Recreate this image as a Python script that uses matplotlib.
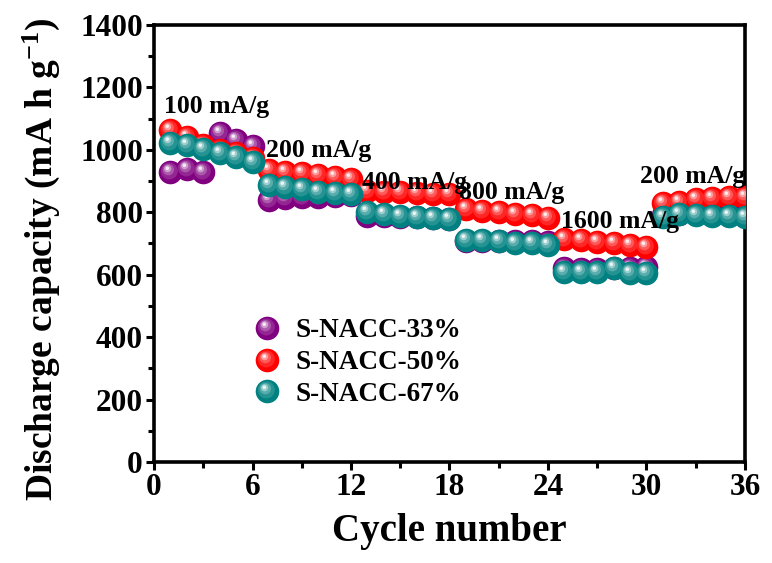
import numpy as np
import matplotlib
matplotlib.use("Agg")
import matplotlib.pyplot as plt
from matplotlib.path import Path
from matplotlib.legend_handler import HandlerTuple
from matplotlib.colors import to_rgb

cycles = list(range(1, 37))
s33 = [930, 939, 930, 1054, 1030, 1012, 840, 845, 849, 850, 852, 855,
       787, 788, 785, 784, 783, 780, 708, 709, 708, 708, 707, 706,
       620, 618, 618, 620, 620, 626, 792, 795, 796, 795, 795, 792]
s50 = [1065, 1040, 1016, 1000, 990, 973, 935, 930, 925, 920, 913, 908,
       868, 866, 864, 862, 860, 858, 810, 805, 800, 795, 790, 783,
       715, 712, 706, 700, 695, 688, 830, 834, 842, 845, 848, 850]
s67 = [1023, 1016, 1003, 990, 977, 962, 887, 881, 876, 866, 862, 857,
       801, 793, 788, 786, 783, 779, 711, 710, 709, 702, 701, 695,
       610, 610, 610, 622, 607, 605, 786, 795, 790, 788, 788, 784]
series_names = ["S-NACC-33%", "S-NACC-50%", "S-NACC-67%"]
series_colors = ["#800080", "#ff0000", "#008080"]

rate_labels = ["100 mA/g", "200 mA/g", "400 mA/g", "800 mA/g", "1600 mA/g", "200 mA/g"]
rate_x = [3.8, 10.0, 15.9, 21.8, 28.4, 32.8]
rate_y = [1140, 998, 894, 862, 770, 916]

plt.rcParams['font.family'] = ['Liberation Serif', 'DejaVu Serif']
plt.rcParams['font.weight'] = 'bold'
plt.rcParams['mathtext.fontset'] = 'custom'
plt.rcParams['mathtext.rm'] = 'Liberation Serif:bold'
plt.rcParams['mathtext.it'] = 'Liberation Serif:bold'
plt.rcParams['mathtext.bf'] = 'Liberation Serif:bold'

fig = plt.figure(figsize=(7.72, 5.63), dpi=100)
ax = fig.add_axes([0.1995, 0.1794, 0.7655, 0.7762])


def circ_marker(cx, cy, r):
    c = Path.circle((cx, cy), r)
    verts = np.vstack([[[-1, -1], [1, 1]], c.vertices])
    codes = np.concatenate([[Path.MOVETO, Path.MOVETO], c.codes])
    return Path(verts, codes)


layers = [(0.0, 0.0, 1.0, 0.0),
          (-0.10, 0.13, 0.72, 0.15),
          (-0.18, 0.24, 0.48, 0.35),
          (-0.24, 0.32, 0.30, 0.62),
          (-0.27, 0.36, 0.15, 0.92)]
ms = 17


def mix(col, f):
    c = np.array(to_rgb(col))
    return tuple(c + (1 - c) * f)


handles = []
for i, (vals, col) in enumerate(zip([s33, s50, s67], series_colors)):
    hs = []
    for j, (cx, cy, r, f) in enumerate(layers):
        ln, = ax.plot(cycles, vals, linestyle='none', marker=circ_marker(cx, cy, r),
                      markersize=ms, markerfacecolor=mix(col, f), markeredgewidth=0,
                      zorder=3 + i + j * 0.1)
        hs.append(ln)
    handles.append(tuple(hs))

for t, x, y in zip(rate_labels, rate_x, rate_y):
    ax.text(x, y, t, fontsize=18.5, fontweight='bold', ha='center', va='center', zorder=10)

leg = ax.legend(handles, series_names, handler_map={tuple: HandlerTuple(ndivide=1, pad=0)},
                loc='lower left', bbox_to_anchor=(0.148, 0.095), frameon=False,
                prop={'size': 19.5, 'weight': 'bold'}, handlelength=0.9, handletextpad=0.6,
                labelspacing=0.25, borderpad=0)

ax.set_xlim(0, 36)
ax.set_ylim(0, 1400)
ax.set_xticks(np.arange(0, 37, 6))
ax.set_xticks(np.arange(3, 36, 6), minor=True)
ax.set_yticks(np.arange(0, 1401, 200))
ax.set_yticks(np.arange(100, 1400, 200), minor=True)
ax.tick_params(which='both', direction='out', width=2.2, top=False, right=False)
ax.tick_params(which='major', length=6, labelsize=22.5, pad=2)
ax.tick_params(which='minor', length=4)
for lab in ax.get_xticklabels() + ax.get_yticklabels():
    lab.set_fontweight('bold')
for s in ax.spines.values():
    s.set_linewidth(2.6)

ax.set_xlabel("Cycle number", fontsize=28, fontweight='bold', labelpad=8)
ax.set_ylabel(r"Discharge capacity (mA h g$^{\mathbf{-1}}$)", fontsize=27, fontweight='bold', labelpad=12)
ax.yaxis.set_label_coords(-0.155, 0.465)

fig.savefig("out.png", dpi=100)
